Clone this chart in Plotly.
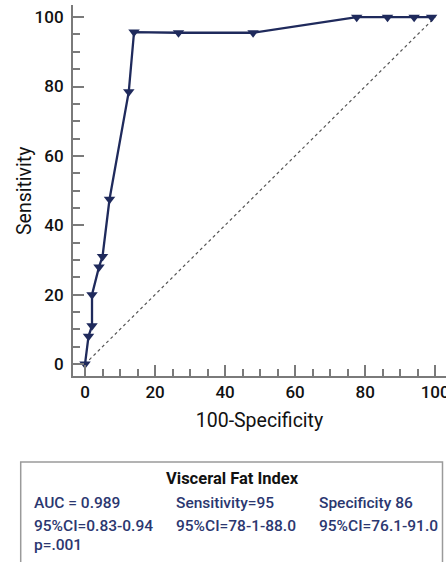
import plotly.graph_objects as go

# ROC data (100-Specificity, Sensitivity)
fpr = [0, 1, 2, 2, 4, 5, 7, 12.5, 14, 26.7, 48, 77.6, 86.4, 94, 99]
tpr = [0, 8, 11, 20, 28, 31, 47.5, 78.5, 95.7, 95.5, 95.5, 100, 100, 100, 100]
ref_x = [0, 100]
ref_y = [0, 100]
tick_vals = [0, 20, 40, 60, 80, 100]

title_text = "Visceral Fat Index"
stats_rows = [
    ["AUC = 0.989", "Sensitivity=95", "Specificity 86"],
    ["95%CI=0.83-0.94", "95%CI=78-1-88.0", "95%CI=76.1-91.0"],
    ["p=.001", "", ""],
]

navy = "#1f2a5c"
txt_navy = "#2b3770"
grey = "#7a7a7a"
FONT = "Roboto"

fig = go.Figure()
fig.add_trace(go.Scatter(x=ref_x, y=ref_y, mode="lines",
                         line=dict(color="#555555", width=1.2, dash="dot"),
                         hoverinfo="skip", showlegend=False, cliponaxis=False))
fig.add_trace(go.Scatter(x=fpr, y=tpr, mode="lines+markers",
                         line=dict(color=navy, width=2.3),
                         marker=dict(symbol="triangle-down", size=10, color=navy),
                         showlegend=False, cliponaxis=False))

axis_common = dict(
    showline=True, linecolor=grey, linewidth=2,
    ticks="inside", tickcolor=grey, tickwidth=2, ticklen=11,
    showgrid=False, zeroline=False,
    tickfont=dict(family=FONT, size=17, color="#111111", weight=500),
    minor=dict(ticks="inside", ticklen=7, tickcolor=grey, tickwidth=1.5, dtick=5, showgrid=False),
    tickvals=tick_vals,
    ticklabeloverflow="allow",
)

fig.update_xaxes(range=[-3.43, 103.1],
                 title=dict(text="100-Specificity", font=dict(family=FONT, size=19.5, color="#111111"), standoff=12),
                 **axis_common)
fig.update_yaxes(range=[-3.45, 103.5], ticklabelstandoff=4, **axis_common)

# layout in pixels -> paper conversions
L, R, T, B = 73, 0, 5, 186
W, H = 446, 562
pw, ph = W - L - R, H - T - B

def px2x(px):
    return (px - L) / pw

def py2y(py):
    return (H - B - py) / ph

# y-axis title placed precisely
fig.add_annotation(xref="paper", yref="paper", x=px2x(24), y=py2y(191),
                   text="Sensitivity", textangle=-90, showarrow=False,
                   xanchor="center", yanchor="middle",
                   font=dict(family=FONT, size=19.5, color="#111111"))

fig.add_shape(type="rect", xref="paper", yref="paper",
              x0=px2x(20.7), x1=px2x(442.5), y0=py2y(575), y1=py2y(462),
              line=dict(color="#9a9a9a", width=1.5), fillcolor="rgba(0,0,0,0)")

fig.add_annotation(xref="paper", yref="paper", x=px2x(232), y=py2y(478),
                   text="<b>" + title_text + "</b>", showarrow=False,
                   xanchor="center", yanchor="middle",
                   font=dict(family=FONT, size=16.5, color="#111111"))

col_px = [32, 174, 317]
row_py = [503, 526, 545]
for r, row in enumerate(stats_rows):
    for c, t in enumerate(row):
        if not t:
            continue
        fig.add_annotation(xref="paper", yref="paper", x=px2x(col_px[c]), y=py2y(row_py[r]),
                           text=t, showarrow=False, xanchor="left", yanchor="middle",
                           font=dict(family=FONT, size=15.5, color=txt_navy, weight=500))

fig.update_layout(width=W, height=H, margin=dict(l=L, r=R, t=T, b=B, autoexpand=False),
                  plot_bgcolor="white", paper_bgcolor="white")

fig.write_html("out.html", config={"displayModeBar": False},
               post_script="document.body.style.margin='0';")
